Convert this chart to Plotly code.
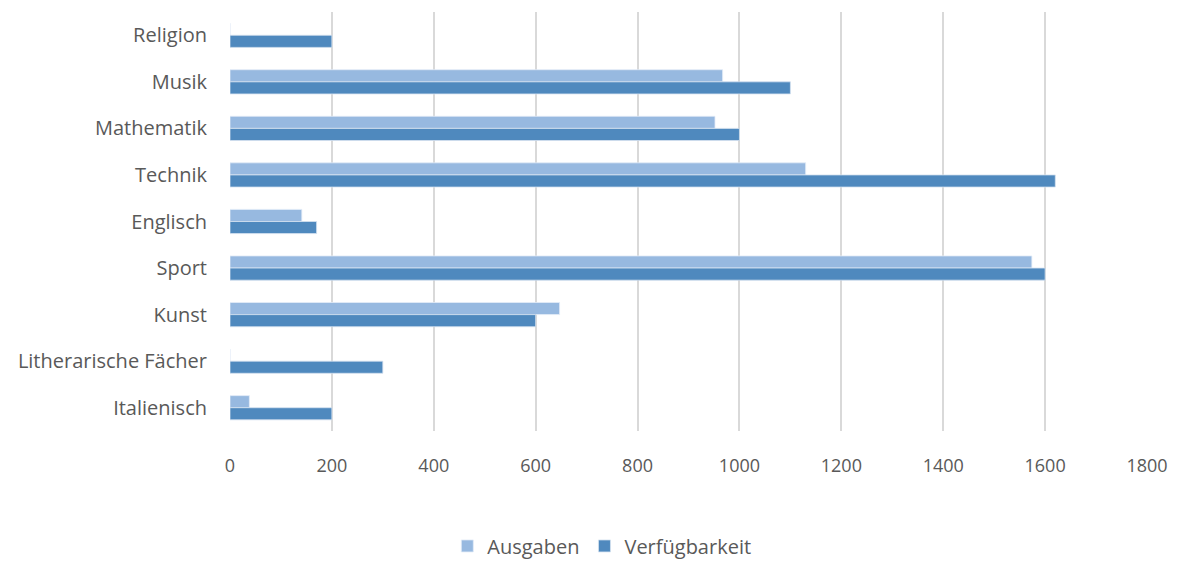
import plotly.graph_objects as go

categories = ["Religion", "Musik", "Mathematik", "Technik", "Englisch",
              "Sport", "Kunst", "Litherarische Fächer", "Italienisch"]
ausgaben = [0, 967, 952, 1130, 141, 1574, 647, 0, 38]
verfuegbarkeit = [200, 1100, 1000, 1620, 170, 1600, 600, 300, 200]
x_ticks = [0, 200, 400, 600, 800, 1000, 1200, 1400, 1600, 1800]

FONT = "Open Sans"
TXT = "#595959"

fig = go.Figure()
fig.add_trace(go.Bar(
    y=categories, x=ausgaben, name="Ausgaben", orientation="h",
    marker=dict(color="#97B9E0", line=dict(color="#E3ECF7", width=0.8)),
))
fig.add_trace(go.Bar(
    y=categories, x=verfuegbarkeit, name="Verfügbarkeit", orientation="h",
    marker=dict(color="#4F89BE", line=dict(color="#D5E2F0", width=0.8)),
))

fig.update_layout(
    width=1180, height=564,
    margin=dict(l=230, r=33, t=12, b=133),
    paper_bgcolor="white", plot_bgcolor="white",
    barmode="group", bargap=0.48, bargroupgap=0,
    font=dict(family=FONT, size=20, color=TXT),
    showlegend=True,
    legend=dict(orientation="h", xref="container", yref="container",
                x=0.51, xanchor="center", y=0.032, yanchor="middle",
                font=dict(family=FONT, size=20, color=TXT), itemwidth=30,
                traceorder="normal"),
    xaxis=dict(range=[0, 1800], tickvals=x_ticks, showgrid=True,
               gridcolor="#D9D9D9", gridwidth=2, zeroline=False,
               showline=False, ticks="outside", ticklen=18, automargin=False,
               tickcolor="rgba(0,0,0,0)", tickfont=dict(family=FONT, size=18, color=TXT)),
    yaxis=dict(autorange="reversed", showgrid=False, zeroline=False,
               showline=False, ticks="outside", ticklen=18, automargin=False,
               tickcolor="rgba(0,0,0,0)", tickfont=dict(family=FONT, size=20, color=TXT)),
)

fig.write_html("out.html", config={"displayModeBar": False},
               post_script="document.body.style.margin='0';")
